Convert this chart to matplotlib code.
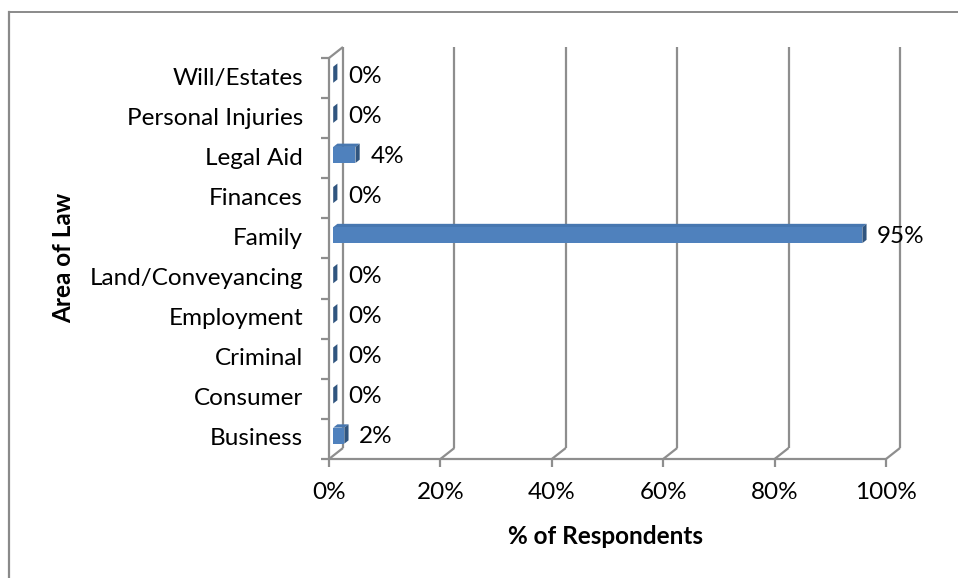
import matplotlib
matplotlib.use("Agg")
import matplotlib.pyplot as plt
from matplotlib.patches import Polygon
from matplotlib.lines import Line2D

# Survey data: area of law vs. share of respondents (bottom to top)
categories = ["Business", "Consumer", "Criminal", "Employment", "Land/Conveyancing",
              "Family", "Finances", "Legal Aid", "Personal Injuries", "Will/Estates"]
percent = [2, 0, 0, 0, 0, 95, 0, 4, 0, 0]
x_ticks = [0, 20, 40, 60, 80, 100]
x_tick_labels = ["0%", "20%", "40%", "60%", "80%", "100%"]

FONT = "Lato"
FS = 17.5
W, H, DPI = 958, 578, 100
GRID = "#8e8e8e"
FRONT, TOP, SIDE = "#4f81bd", "#4777b0", "#30557f"

fig = plt.figure(figsize=(W / DPI, H / DPI), dpi=DPI)
ax = fig.add_axes([329 / W, 1 - 459 / H, (886 - 329) / W, (459 - 58) / H])
ax.set_xlim(0, 100)
ax.set_ylim(-0.5, len(categories) - 0.5)
ax.axis("off")

# pseudo-3D depth: pixel shift of the back wall, converted to data units
p0 = ax.transData.transform((0, 0))
p1 = ax.transData.transform((1, 1))
SX = p1[0] - p0[0]
SY = p1[1] - p0[1]
DX = 14 / SX
DY = 11 / SY


def P(x, y, d):
    return (x + d * DX, y + d * DY)


ylo, yhi = -0.5, len(categories) - 0.5


def seg(a, b):
    ax.add_line(Line2D([a[0], b[0]], [a[1], b[1]], color=GRID, lw=1.6,
                       solid_capstyle="butt", clip_on=False))


# back-wall gridlines and floor diagonals
for x in x_ticks:
    seg(P(x, ylo, 1), P(x, yhi, 1))
    seg(P(x, ylo, 0), P(x, ylo, 1))
# front floor edge and left wall
seg(P(0, ylo, 0), P(100, ylo, 0))
seg(P(0, ylo, 0), P(0, yhi, 0))
seg(P(0, yhi, 0), P(0, yhi, 1))

# tick marks
for x in x_ticks:
    seg((x, ylo), (x, ylo - 8 / SY))
for k in range(len(categories) + 1):
    seg((0, ylo + k), (-8 / SX, ylo + k))

# 3D bars
half = 0.2
d0, d1 = 0.3, 0.6
for i, v in enumerate(percent):
    y0, y1 = i - half, i + half
    top = [P(0, y1, d0), P(v, y1, d0), P(v, y1, d1), P(0, y1, d1)]
    front = [P(0, y0, d0), P(v, y0, d0), P(v, y1, d0), P(0, y1, d0)]
    side = [P(v, y0, d0), P(v, y0, d1), P(v, y1, d1), P(v, y1, d0)]
    ax.add_patch(Polygon(top, closed=True, facecolor=TOP, edgecolor="none", zorder=3))
    ax.add_patch(Polygon(front, closed=True, facecolor=FRONT, edgecolor="none", zorder=3))
    ax.add_patch(Polygon(side, closed=True, facecolor=SIDE, edgecolor="none", zorder=3))
    ax.annotate(f"{v}%", xy=(v, i), xytext=(19, 2), textcoords="offset pixels",
                ha="left", va="center", fontsize=FS, family=FONT,
                annotation_clip=False, zorder=4)

# tick labels
for x, lab in zip(x_ticks, x_tick_labels):
    ax.annotate(lab, xy=(x, ylo), xytext=(0, -34), textcoords="offset pixels",
                ha="center", va="center", fontsize=FS, family=FONT,
                annotation_clip=False)
for i, cat in enumerate(categories):
    ax.annotate(cat, xy=(0, i), xytext=(-26, 0), textcoords="offset pixels",
                ha="right", va="center", fontsize=FS, family=FONT,
                annotation_clip=False)

# axis titles
fig.text(64 / W, 1 - 258 / H, "Area of Law", rotation=90, ha="center", va="center",
         fontsize=FS, fontweight="bold", family=FONT)
fig.text(606 / W, 1 - 536 / H, "% of Respondents", ha="center", va="center",
         fontsize=FS, fontweight="bold", family=FONT)

# chart area border
fig.add_artist(Line2D([9 / W, 1], [1 - 12 / H, 1 - 12 / H], color="#8a8a8a", lw=1.4))
fig.add_artist(Line2D([9 / W, 9 / W], [0, 1 - 12 / H], color="#8a8a8a", lw=1.6))

fig.savefig("out.png", dpi=DPI)
